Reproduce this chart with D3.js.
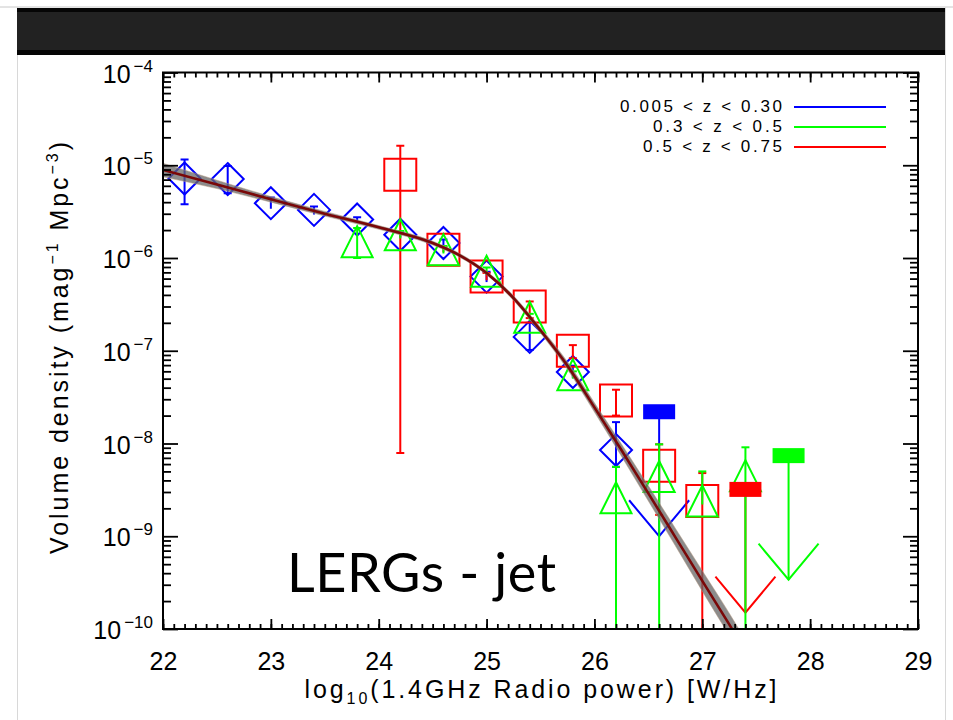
<!DOCTYPE html>
<html><head><meta charset="utf-8">
<script src="https://cdn.jsdelivr.net/npm/d3@7"></script>
<style>body{margin:0;background:#fff}svg{display:block}</style>
</head><body><svg id="c" width="953" height="720"></svg>
<script>
// ---------- data ----------
const xTickValues = [22,23,24,25,26,27,28,29];
const yTickExps = [-4,-5,-6,-7,-8,-9,-10];
const legendLabels = ["0.005 < z < 0.30","0.3 < z < 0.5","0.5 < z < 0.75"];
const titleText = "LERGs - jet";

// z 0.005-0.30 (blue diamonds)
const blueX  = [22.2, 22.6, 23.0, 23.4, 23.8, 24.2, 24.6, 25.0, 25.4, 25.8, 26.2];
const blueY  = [7.2e-6, 7.1e-6, 3.9e-6, 3.3e-6, 2.6e-6, 1.78e-6, 1.45e-6, 6.3e-7, 1.41e-7, 5.9e-8, 8.5e-9];
const blueHi = [1.15e-5, 9.8e-6, 4.5e-6, 3.6e-6, 2.75e-6, 1.9e-6, 1.58e-6, 7.1e-7, 2.0e-7, 6.9e-8, 1.7e-8];
const blueLo = [3.8e-6, 5.0e-6, 3.4e-6, 2.95e-6, 2.4e-6, 1.66e-6, 1.32e-6, 5.5e-7, 1.02e-7, 5.1e-8, 5.6e-9];
const blueLimX = [26.6], blueLimY = [2.2e-8], blueLimTip = [1.0e-9];

// z 0.3-0.5 (green triangles)
const greenX  = [23.8, 24.2, 24.6, 25.0, 25.4, 25.8, 26.2, 26.6, 27.0, 27.4];
const greenY  = [1.5e-6, 1.78e-6, 1.23e-6, 7.2e-7, 2.3e-7, 5.5e-8, 2.6e-9, 4.4e-9, 2.4e-9, 4.5e-9];
const greenHi = [2.1e-6, 1.95e-6, 1.35e-6, 7.9e-7, 2.5e-7, 6.0e-8, 5.6e-9, 9.8e-9, 5.0e-9, 9.1e-9];
const greenLo = [1.0e-6, 1.62e-6, 1.12e-6, 6.6e-7, 2.1e-7, 5.0e-8, 1e-11, 1e-11, 2.2e-9, 1e-11];
const greenLimX = [27.8], greenLimY = [7.4e-9], greenLimTip = [3.4e-10];

// z 0.5-0.75 (red squares)
const redX  = [24.2, 24.6, 25.0, 25.4, 25.8, 26.2, 26.6, 27.0];
const redY  = [7.9e-6, 1.23e-6, 6.3e-7, 3.0e-7, 1.0e-7, 2.9e-8, 5.75e-9, 2.4e-9];
const redHi = [1.62e-5, 1.32e-6, 6.9e-7, 3.4e-7, 1.15e-7, 3.8e-8, 9.8e-9, 4.8e-9];
const redLo = [7.9e-9, 1.15e-6, 5.75e-7, 2.25e-7, 8.3e-8, 2.0e-8, 1.7e-9, 1e-11];
const redLimX = [27.4], redLimY = [3.2e-9], redLimTip = [1.5e-10];

// best-fit luminosity function and its uncertainty band
const fitX    = [22.0, 22.5, 23.0, 23.5, 24.0, 24.5, 24.75, 25.0, 25.25, 25.5, 25.75, 26.0, 26.25, 26.5, 26.75, 27.0, 27.25, 27.35];
const fitY    = [8.9e-6, 6.2e-6, 4.3e-6, 3.0e-6, 2.14e-6, 1.45e-6, 1.07e-6, 6.9e-7, 3.7e-7, 1.66e-7, 6.9e-8, 2.45e-8, 8.5e-9, 2.9e-9, 9.8e-10, 3.3e-10, 1.12e-10, 7.2e-11];
const fitBandHi = [1.05e-5, 6.9e-6, 4.6e-6, 3.18e-6, 2.24e-6, 1.52e-6, 1.12e-6, 7.2e-7, 3.92e-7, 1.78e-7, 7.6e-8, 2.75e-8, 9.9e-9, 3.5e-9, 1.22e-9, 4.25e-10, 1.48e-10, 9.5e-11];
const fitBandLo = [7.5e-6, 5.6e-6, 4.0e-6, 2.83e-6, 2.04e-6, 1.38e-6, 1.02e-6, 6.6e-7, 3.49e-7, 1.55e-7, 6.3e-8, 2.18e-8, 7.3e-9, 2.4e-9, 7.9e-10, 2.56e-10, 8.5e-11, 5.5e-11];

// ---------- layout ----------
const W = 953, H = 720;
const M = {l:163, r:918, t:72.5, b:629};
const svg = d3.select("#c");
const x = d3.scaleLinear().domain([22,29]).range([M.l, M.r]);
const y = d3.scaleLog().domain([1e-10,1e-4]).range([M.b, M.t]);
const AX_FONT = "'Liberation Sans', Arial, sans-serif";
const colors = {blue:"#0000ff", green:"#00ff00", red:"#ff0000"};

svg.append("rect").attr("width",W).attr("height",H).attr("fill","#fff");
// slide chrome
svg.append("line").attr("x1",0).attr("x2",W).attr("y1",7).attr("y2",7).attr("stroke","#c8c8c8").attr("stroke-width",1);
svg.append("line").attr("x1",17.5).attr("x2",17.5).attr("y1",7).attr("y2",H).attr("stroke","#d8d8d8").attr("stroke-width",1);
svg.append("line").attr("x1",945.5).attr("x2",945.5).attr("y1",7).attr("y2",H).attr("stroke","#d8d8d8").attr("stroke-width",1);
svg.append("rect").attr("x",17).attr("y",8).attr("width",928).attr("height",47).attr("fill","#050505");
svg.append("rect").attr("x",17).attr("y",12).attr("width",928).attr("height",38).attr("fill","#222");

// clip
svg.append("clipPath").attr("id","clip").append("rect")
  .attr("x",M.l).attr("y",M.t).attr("width",M.r-M.l).attr("height",M.b-M.t);
const plot = svg.append("g").attr("clip-path","url(#clip)");

const seriesBlue  = {color:colors.blue,  sym:"diamond",  xs:blueX,  ys:blueY,  hi:blueHi,  lo:blueLo,  lx:blueLimX,  ly:blueLimY,  lt:blueLimTip};
const seriesGreen = {color:colors.green, sym:"triangle", xs:greenX, ys:greenY, hi:greenHi, lo:greenLo, lx:greenLimX, ly:greenLimY, lt:greenLimTip};
const seriesRed   = {color:colors.red,   sym:"square",   xs:redX,   ys:redY,   hi:redHi,   lo:redLo,   lx:redLimX,   ly:redLimY,   lt:redLimTip};
const legendColors = [colors.blue, colors.green, colors.red];
const drawOrder = [seriesBlue, seriesRed, seriesGreen];

function symPath(sym, cx, cy){
  if(sym==="diamond"){ const s=16; return `M${cx},${cy-s}L${cx+s},${cy}L${cx},${cy+s}L${cx-s},${cy}Z`; }
  if(sym==="triangle"){ const s=15.5; return `M${cx},${cy-s}L${cx+s},${cy+s}L${cx-s},${cy+s}Z`; }
  const s=16; return `M${cx-s},${cy-s}H${cx+s}V${cy+s}H${cx-s}Z`;
}

// upper-limit arrows (underneath)
drawOrder.forEach(s=>{
  const g = plot.append("g").attr("stroke",s.color).attr("fill","none").attr("stroke-width",2);
  s.lx.forEach((xv,i)=>{
    const cx=x(xv), cy=y(s.ly[i]), ty=y(s.lt[i]);
    g.append("line").attr("x1",cx).attr("x2",cx).attr("y1",cy).attr("y2",ty);
    g.append("path").attr("d",`M${cx-30},${ty-36}L${cx},${ty}L${cx+30},${ty-36}`);
  });
});
// points with error bars
drawOrder.forEach(s=>{
  const g = plot.append("g").attr("stroke",s.color).attr("fill","none").attr("stroke-width",2);
  s.xs.forEach((xv,i)=>{
    const cx=x(xv), cy=y(s.ys[i]), yh=y(s.hi[i]), yl=y(s.lo[i]);
    g.append("line").attr("x1",cx).attr("x2",cx).attr("y1",yh).attr("y2",yl);
    g.append("line").attr("x1",cx-4).attr("x2",cx+4).attr("y1",yh).attr("y2",yh);
    if(s.lo[i] > s.ys[i]*0.95 || s.lo[i] < s.ys[i]*0.85)
      g.append("line").attr("x1",cx-4).attr("x2",cx+4).attr("y1",yl).attr("y2",yl);
    g.append("path").attr("d",symPath(s.sym,cx,cy));
  });
});
// filled limit bars on top
drawOrder.forEach(s=>{
  s.lx.forEach((xv,i)=>{
    const cx=x(xv), cy=y(s.ly[i]);
    plot.append("rect").attr("x",cx-16).attr("y",cy-7.5).attr("width",32).attr("height",15)
      .attr("fill",s.color);
  });
});

// fit band + line
const fitData = fitX.map((v,i)=>({x:v,y:fitY[i],hi:fitBandHi[i],lo:fitBandLo[i]}));
plot.append("path").datum(fitData)
  .attr("d", d3.area().x(d=>x(d.x)).y0(d=>y(d.lo)).y1(d=>y(d.hi)).curve(d3.curveMonotoneX))
  .attr("fill","#666").attr("fill-opacity",0.75).attr("stroke","#b89a80").attr("stroke-width",0.8).attr("stroke-opacity",0.6);
plot.append("path").datum(fitData)
  .attr("d", d3.line().x(d=>x(d.x)).y(d=>y(d.y)).curve(d3.curveMonotoneX))
  .attr("fill","none").attr("stroke","#7a0808").attr("stroke-width",2.6);

// ---------- axes ----------
const minorX = d3.range(220,291).map(v=>v/10);
const minorY = [];
for(let e=-10;e<-4;e++){ for(let m=2;m<=9;m++) minorY.push(m*Math.pow(10,e)); }
const majorY = yTickExps.map(e=>Math.pow(10,e));

function styleAxis(g){
  g.select(".domain").remove();
  g.selectAll(".tick line").attr("stroke","#000").attr("stroke-width",1.8);
}
svg.append("g").attr("transform",`translate(0,${M.b})`)
  .call(d3.axisBottom(x).tickValues(minorX).tickSize(-5).tickFormat("")).call(styleAxis);
svg.append("g").attr("transform",`translate(0,${M.t})`)
  .call(d3.axisTop(x).tickValues(minorX).tickSize(-5).tickFormat("")).call(styleAxis);
svg.append("g").attr("transform",`translate(0,${M.t})`)
  .call(d3.axisTop(x).tickValues(xTickValues).tickSize(-10).tickFormat("")).call(styleAxis);
const bottomMajor = svg.append("g").attr("transform",`translate(0,${M.b})`)
  .call(d3.axisBottom(x).tickValues(xTickValues).tickSize(-10).tickPadding(23).tickFormat(d3.format("d")))
  .call(styleAxis);
bottomMajor.selectAll("text").attr("font-family",AX_FONT).attr("font-size",25).attr("fill","#000");

[[M.l,d3.axisLeft],[M.r,d3.axisRight]].forEach(([px,fn])=>{
  svg.append("g").attr("transform",`translate(${px},0)`)
    .call(fn(y).tickValues(minorY).tickSize(-8).tickFormat("")).call(styleAxis);
  svg.append("g").attr("transform",`translate(${px},0)`)
    .call(fn(y).tickValues(majorY).tickSize(-15).tickFormat("")).call(styleAxis);
});

// frame
svg.append("rect").attr("x",M.l).attr("y",M.t).attr("width",M.r-M.l).attr("height",M.b-M.t)
  .attr("fill","none").attr("stroke","#000").attr("stroke-width",2);

// y tick labels 10^n
yTickExps.forEach(e=>{
  const t = svg.append("text").attr("x",153).attr("y",y(Math.pow(10,e))+10)
    .attr("text-anchor","end").attr("font-family",AX_FONT).attr("font-size",25).attr("fill","#000");
  t.append("tspan").text("10");
  t.append("tspan").attr("dx",3).attr("dy",-11).attr("font-size",17).text("\u2212"+Math.abs(e));
});

// axis titles
const xl = svg.append("text").attr("x",(M.l+M.r)/2).attr("y",698).attr("text-anchor","middle")
  .attr("font-family",AX_FONT).attr("font-size",25).attr("fill","#000")
  .attr("textLength",472).attr("lengthAdjust","spacing");
xl.append("tspan").text("log");
xl.append("tspan").attr("dy",6).attr("font-size",16).text("10");
xl.append("tspan").attr("dy",-6).text("(1.4GHz Radio power) [W/Hz]");

const yl = svg.append("text").attr("transform","translate(68,348) rotate(-90)").attr("text-anchor","middle")
  .attr("font-family",AX_FONT).attr("font-size",25).attr("fill","#000")
  .attr("textLength",412).attr("lengthAdjust","spacing");
yl.append("tspan").text("Volume density (mag");
yl.append("tspan").attr("dy",-10).attr("font-size",16).text("\u22121");
yl.append("tspan").attr("dy",10).text(" Mpc");
yl.append("tspan").attr("dy",-10).attr("font-size",16).text("\u22123");
yl.append("tspan").attr("dy",10).text(")");

// legend
const legY = [112,132,152];
const legLen = [162,129,139];
legendLabels.forEach((lab,i)=>{
  svg.append("text").attr("x",782).attr("y",legY[i]).attr("text-anchor","end")
    .attr("font-family",AX_FONT).attr("font-size",17).attr("fill","#000")
    .attr("textLength",legLen[i]).attr("lengthAdjust","spacing").text(lab);
  svg.append("line").attr("x1",794).attr("x2",886).attr("y1",legY[i]-5).attr("y2",legY[i]-5)
    .attr("stroke",legendColors[i]).attr("stroke-width",2);
});

// title
svg.append("text").attr("x",287).attr("y",592).attr("font-family","Lato, 'Open Sans', sans-serif")
  .attr("font-size",54).attr("fill","#000").attr("textLength",269).attr("lengthAdjust","spacing").text(titleText);
</script></body></html>
